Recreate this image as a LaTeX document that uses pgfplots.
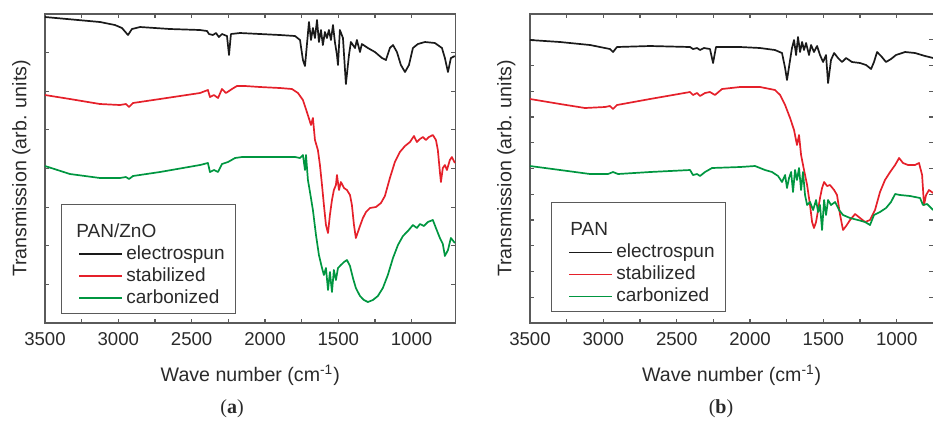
\documentclass[border=0pt]{standalone}
\usepackage{pgfplots}
\pgfplotsset{compat=1.18}
\usepackage{pgfplotstable}
\usepackage{fontspec}
\setmainfont{Liberation Sans}
\newfontfamily\serifbold{Liberation Serif}

\definecolor{axisgray}{HTML}{5A5A5A}
\definecolor{txtgray}{HTML}{2A2A2A}
\definecolor{cblack}{HTML}{1A1A1A}
\definecolor{cred}{HTML}{E5202A}
\definecolor{cgreen}{HTML}{009640}

% ---------- (a) PAN/ZnO ----------
\pgfplotstableread{
wn T
3500 306
3125 301
3023 298
2975 295
2934 288
2907 294
2852 296
2648 294
2443 293
2395 292
2382 289
2355 288
2334 290
2314 286
2293 289
2259 287
2245 268
2232 289
2170 290
2034 289
1898 288
1795 287
1761 283
1741 263
1727 257
1714 278
1700 301
1686 283
1673 295
1659 285
1645 303
1632 281
1618 293
1605 278
1591 291
1577 285
1564 293
1550 283
1536 298
1523 281
1509 268
1502 258
1489 293
1468 285
1448 239
1427 268
1414 281
1386 275
1373 283
1352 271
1339 279
1298 275
1250 271
1202 265
1175 263
1148 275
1127 278
1100 271
1073 258
1045 251
1018 258
991 275
957 279
909 281
841 280
793 275
773 265
752 251
732 265
705 267
}\aBlack

\pgfplotstableread{
wn T
3500 228
3330 224
3125 219
2989 218
2948 219
2927 216
2900 220
2716 224
2443 230
2389 233
2375 226
2348 228
2320 225
2293 234
2266 230
2225 234
2191 237
2136 237
2034 236
1898 235
1816 234
1775 230
1741 223
1714 211
1686 198
1673 205
1659 183
1639 173
1625 158
1611 138
1598 118
1584 98
1570 90
1557 108
1543 123
1530 133
1516 138
1509 148
1495 133
1482 141
1461 135
1441 133
1420 128
1407 118
1393 98
1380 85
1366 91
1352 97
1332 105
1311 111
1284 115
1243 116
1209 120
1182 127
1148 145
1114 161
1080 171
1045 177
1011 181
984 187
964 181
943 184
923 186
902 183
882 186
855 188
834 183
821 173
807 151
800 141
787 155
773 158
759 153
739 163
725 166
705 160
}\aRed

\pgfplotstableread{
wn T
3500 157
3330 149
3125 145
2989 145
2948 146
2927 144
2900 147
2716 151
2443 158
2389 160
2375 151
2348 153
2320 151
2293 159
2252 161
2204 165
2157 166
2034 166
1898 166
1795 166
1761 165
1741 168
1727 153
1720 168
1707 143
1693 131
1673 113
1652 88
1632 68
1611 55
1598 48
1584 55
1570 33
1557 51
1543 31
1530 53
1516 43
1502 55
1482 58
1461 61
1441 63
1420 57
1400 45
1380 35
1352 27
1325 23
1298 21
1264 23
1230 27
1196 35
1162 48
1127 65
1093 78
1059 87
1025 92
991 98
964 95
943 99
916 97
889 101
855 103
834 95
807 85
787 79
773 67
752 73
732 85
705 80
}\aGreen

% ---------- (b) PAN ----------
\pgfplotstableread{
wn T
3500 283
3295 281
3091 278
2989 275
2955 274
2934 271
2907 276
2682 277
2409 276
2389 274
2361 275
2341 273
2314 275
2273 274
2252 260
2232 276
2068 276
1932 275
1830 273
1782 270
1761 255
1748 243
1727 263
1714 275
1700 283
1686 268
1673 286
1659 271
1645 281
1632 273
1618 280
1598 268
1584 278
1564 271
1543 277
1523 268
1502 261
1482 268
1468 240
1448 263
1427 270
1400 265
1373 261
1345 265
1305 261
1250 260
1209 258
1175 254
1155 261
1134 271
1107 267
1073 261
1039 264
1005 268
943 271
875 270
807 267
752 265
}\bBlack

\pgfplotstableread{
wn T
3500 224
3295 219
3125 215
2989 216
2955 217
2934 214
2907 218
2682 224
2409 231
2389 228
2361 230
2341 227
2307 230
2273 231
2239 228
2191 234
2068 236
1932 236
1830 233
1795 228
1761 218
1727 205
1700 193
1680 178
1666 188
1652 168
1632 153
1611 138
1591 118
1577 101
1564 95
1550 101
1536 113
1523 125
1509 135
1495 141
1475 137
1455 138
1427 133
1407 128
1386 108
1366 93
1345 97
1318 103
1284 109
1250 105
1216 101
1182 103
1148 113
1114 131
1080 143
1045 151
1011 158
984 165
957 160
923 158
875 158
848 160
827 148
814 118
800 128
780 133
752 130
}\bRed

\pgfplotstableread{
wn T
3500 157
3295 153
3091 149
2968 149
2934 151
2900 149
2682 151
2409 153
2389 148
2361 149
2341 147
2307 151
2259 155
2068 156
1966 157
1898 153
1850 151
1809 147
1782 141
1761 148
1748 135
1734 145
1720 151
1707 131
1693 153
1680 143
1666 155
1652 133
1639 151
1625 128
1611 118
1591 121
1570 113
1550 123
1536 111
1523 118
1509 93
1495 123
1482 108
1468 123
1448 118
1420 121
1393 113
1366 108
1318 105
1264 103
1216 101
1182 98
1155 108
1114 111
1073 115
1039 121
1011 129
977 128
909 127
841 125
821 118
793 119
752 113
}\bGreen

\pgfplotsset{
  ftir/.style={
    scale only axis,
    height=154.5pt,
    x dir=reverse,
    xmax=3500,
    ymin=0, ymax=309,
    xtick={1000,1500,2000,2500,3000,3500},
    minor x tick num=1,
    tick align=inside,
    xtick pos=both, ytick pos=both,
    major tick length=2.2pt, minor tick length=2.2pt,
    yticklabels={},
    axis line style={draw=axisgray, line width=0.6pt},
    every tick/.style={draw=axisgray, line width=0.6pt},
    every minor tick/.style={draw=axisgray, line width=0.6pt},
    /pgf/number format/assume math mode=true,
    /pgf/number format/set thousands separator={},
    tick label style={font=\fontsize{9.3}{11}\selectfont, text=txtgray},
    xticklabel style={yshift=-1pt},
    label style={font=\fontsize{9.8}{12}\selectfont, text=txtgray},
    xlabel={Wave number (cm\textsuperscript{-1})},
    ylabel={Transmission (arb. units)},
    xlabel style={at={(axis description cs:0.5,0)}, anchor=center, yshift=-26pt},
    legend cell align=left,
    legend image code/.code={\path (0pt,0pt); \draw[#1] (4.5pt,0pt) -- (26pt,0pt);},
    legend style={draw=axisgray, line width=0.5pt, fill=white,
      font=\fontsize{9.5}{11}\selectfont, text=txtgray,
      row sep=-0.6pt, inner xsep=4pt, inner ysep=2pt,
      nodes={inner sep=1.6pt}},
    every axis plot/.append style={line width=0.85pt, line join=round},
  }
}

\begin{document}
\begin{tikzpicture}
\useasboundingbox (0,0) rectangle (466.5pt,-210pt);

\begin{axis}[ftir,
  at={(22.5pt,-161.5pt)}, anchor=south west,
  width=205.3pt, xmin=700,
  ytick={38.625,77.25,115.875,154.5,193.125,231.75,270.375},
  ylabel style={at={(axis description cs:-0.058,0.5)}, anchor=center},
  legend style={at={(axis description cs:0.039,0.385)}, anchor=north west},
]
\addlegendimage{empty legend}
\addlegendentry{\rule{0pt}{13pt}\hspace{-25pt}PAN/ZnO}
\addplot[cblack] table[x=wn,y=T] {\aBlack};
\addlegendentry{electrospun}
\addplot[cred] table[x=wn,y=T] {\aRed};
\addlegendentry{stabilized}
\addplot[cgreen] table[x=wn,y=T] {\aGreen};
\addlegendentry{carbonized}
\end{axis}

\begin{axis}[ftir,
  at={(265pt,-161.5pt)}, anchor=south west,
  width=201.7pt, xmin=750,
  ytick={25.75,51.5,77.25,103,128.75,154.5,180.25,206,231.75,257.5,283.25},
  ylabel style={at={(axis description cs:-0.059,0.5)}, anchor=center},
  legend style={at={(axis description cs:0.052,0.391)}, anchor=north west},
]
\addlegendimage{empty legend}
\addlegendentry{\rule{0pt}{13pt}\hspace{-25pt}PAN}
\addplot[cblack] table[x=wn,y=T] {\bBlack};
\addlegendentry{electrospun}
\addplot[cred] table[x=wn,y=T] {\bRed};
\addlegendentry{stabilized}
\addplot[cgreen] table[x=wn,y=T] {\bGreen};
\addlegendentry{carbonized}
\end{axis}

\node[font=\serifbold\fontsize{10}{12}\selectfont, text=txtgray] at (116pt,-204.5pt) {(\textbf{a})};
\node[font=\serifbold\fontsize{10}{12}\selectfont, text=txtgray] at (360.5pt,-204.5pt) {(\textbf{b})};
\end{tikzpicture}
\end{document}
